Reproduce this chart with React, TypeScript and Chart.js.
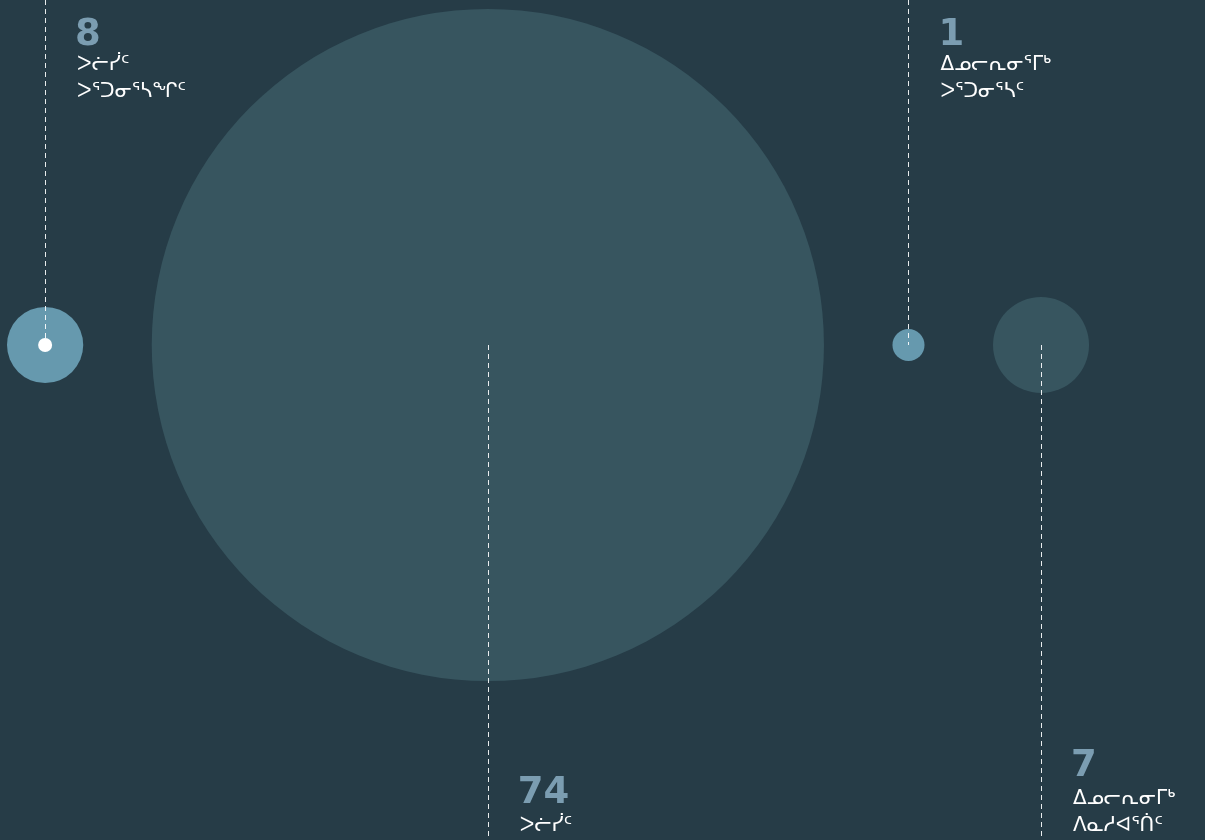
import React, { useEffect, useRef } from "react";
import { Chart, registerables } from "chart.js";

Chart.register(...registerables);

// ---- data ----
const values: number[] = [8, 74, 1, 7];
const groups: number[] = [0, 0, 1, 1];
const labelLines: string[][] = [
  ["ᐳᓖᓰᑦ", "ᐳᕐᑐᓂᕐᓴᖏᑦ"],
  ["ᐳᓖᓰᑦ"],
  ["ᐃᓄᓕᕆᓂᕐᒥᒃ", "ᐳᕐᑐᓂᕐᓴᑦ"],
  ["ᐃᓄᓕᕆᓂᒥᒃ", "ᐱᓇᓱᐊᕐᑏᑦ"],
];
const labelAbove: boolean[] = [true, false, true, false];

// ---- styles ----
const W = 1205;
const H = 840;
const BG = "#263c47";
const BUBBLE_COLORS = ["#6699ae", "#37555f", "#6699ae", "#37555f"];
const NUMBER_COLOR = "#7b9db1";
const TEXT_COLOR = "#ffffff";
const RADIUS_SLOPE = [4.515, 5.33];
const RADIUS_OFFSET = [2, 10.7];
const START_X = 7;
const GAP = 68.5;
const CENTER_FROM_TOP = 345;
const TEXT_SIZE = 20;
const LINE_STEP = 27;

const radii = values.map((v, i) => v * RADIUS_SLOPE[groups[i]] + RADIUS_OFFSET[groups[i]]);
const xs: number[] = [];
{
  let edge = START_X;
  radii.forEach((r) => {
    xs.push(edge + r);
    edge += 2 * r + GAP;
  });
}

const annotPlugin = {
  id: "annot",
  afterDatasetsDraw(chart: any) {
    const ctx = chart.ctx as CanvasRenderingContext2D;
    const meta = chart.getDatasetMeta(0);
    const area = chart.chartArea;
    meta.data.forEach((el: any, i: number) => {
      const x = Math.round(el.x) + 0.5;
      const y = el.y;
      ctx.save();
      ctx.strokeStyle = "rgba(255,255,255,0.9)";
      ctx.lineWidth = 1;
      ctx.setLineDash([5, 4]);
      ctx.beginPath();
      if (labelAbove[i]) {
        ctx.moveTo(x, area.top);
        ctx.lineTo(x, y);
      } else {
        ctx.moveTo(x, y);
        ctx.lineTo(x, area.bottom);
      }
      ctx.stroke();
      ctx.restore();

      if (i === 0) {
        ctx.save();
        ctx.fillStyle = "#ffffff";
        ctx.beginPath();
        ctx.arc(el.x, y, 7, 0, Math.PI * 2);
        ctx.fill();
        ctx.restore();
      }

      const tx = el.x + 32;
      const lines = labelLines[i];
      let numBase: number;
      let lineBases: number[];
      if (labelAbove[i]) {
        numBase = area.top + 45;
        lineBases = lines.map((_, k) => area.top + 70 + k * LINE_STEP);
      } else {
        const last = area.bottom - 9;
        lineBases = lines.map((_, k) => last - (lines.length - 1 - k) * LINE_STEP);
        numBase = lineBases[0] - 28;
      }
      ctx.save();
      ctx.textAlign = "left";
      ctx.textBaseline = "alphabetic";
      ctx.fillStyle = NUMBER_COLOR;
      ctx.font = "bold 37px 'DejaVu Sans'";
      ctx.fillText(String(values[i]), tx - 2, numBase);
      ctx.fillStyle = TEXT_COLOR;
      ctx.font = `${TEXT_SIZE}px 'DejaVu Sans'`;
      lines.forEach((s, k) => ctx.fillText(s, tx, lineBases[k]));
      ctx.restore();
    });
  },
};

export default function App() {
  const ref = useRef<HTMLCanvasElement>(null);
  useEffect(() => {
    document.body.style.margin = "0";
    const canvas = ref.current!;
    const chart = new Chart(canvas, {
      type: "bubble",
      data: {
        datasets: [
          {
            data: values.map((v, i) => ({ x: xs[i], y: 0, r: radii[i] })),
            backgroundColor: BUBBLE_COLORS,
            borderWidth: 0,
            hoverRadius: 0,
            hoverBorderWidth: 0,
            clip: false,
          } as any,
        ],
      },
      options: {
        animation: false,
        responsive: false,
        devicePixelRatio: 1,
        layout: { padding: 0, autoPadding: false },
        events: [],
        plugins: { legend: { display: false }, tooltip: { enabled: false } },
        scales: {
          x: { type: "linear", min: 0, max: W, display: false },
          y: { type: "linear", min: -(H - CENTER_FROM_TOP), max: CENTER_FROM_TOP, display: false },
        },
      },
      plugins: [annotPlugin],
    });
    return () => chart.destroy();
  }, []);
  return (
    <div style={{ position: "fixed", left: 0, top: 0, width: W, height: H, background: BG }}>
      <canvas ref={ref} width={W} height={H} style={{ display: "block" }} />
    </div>
  );
}
